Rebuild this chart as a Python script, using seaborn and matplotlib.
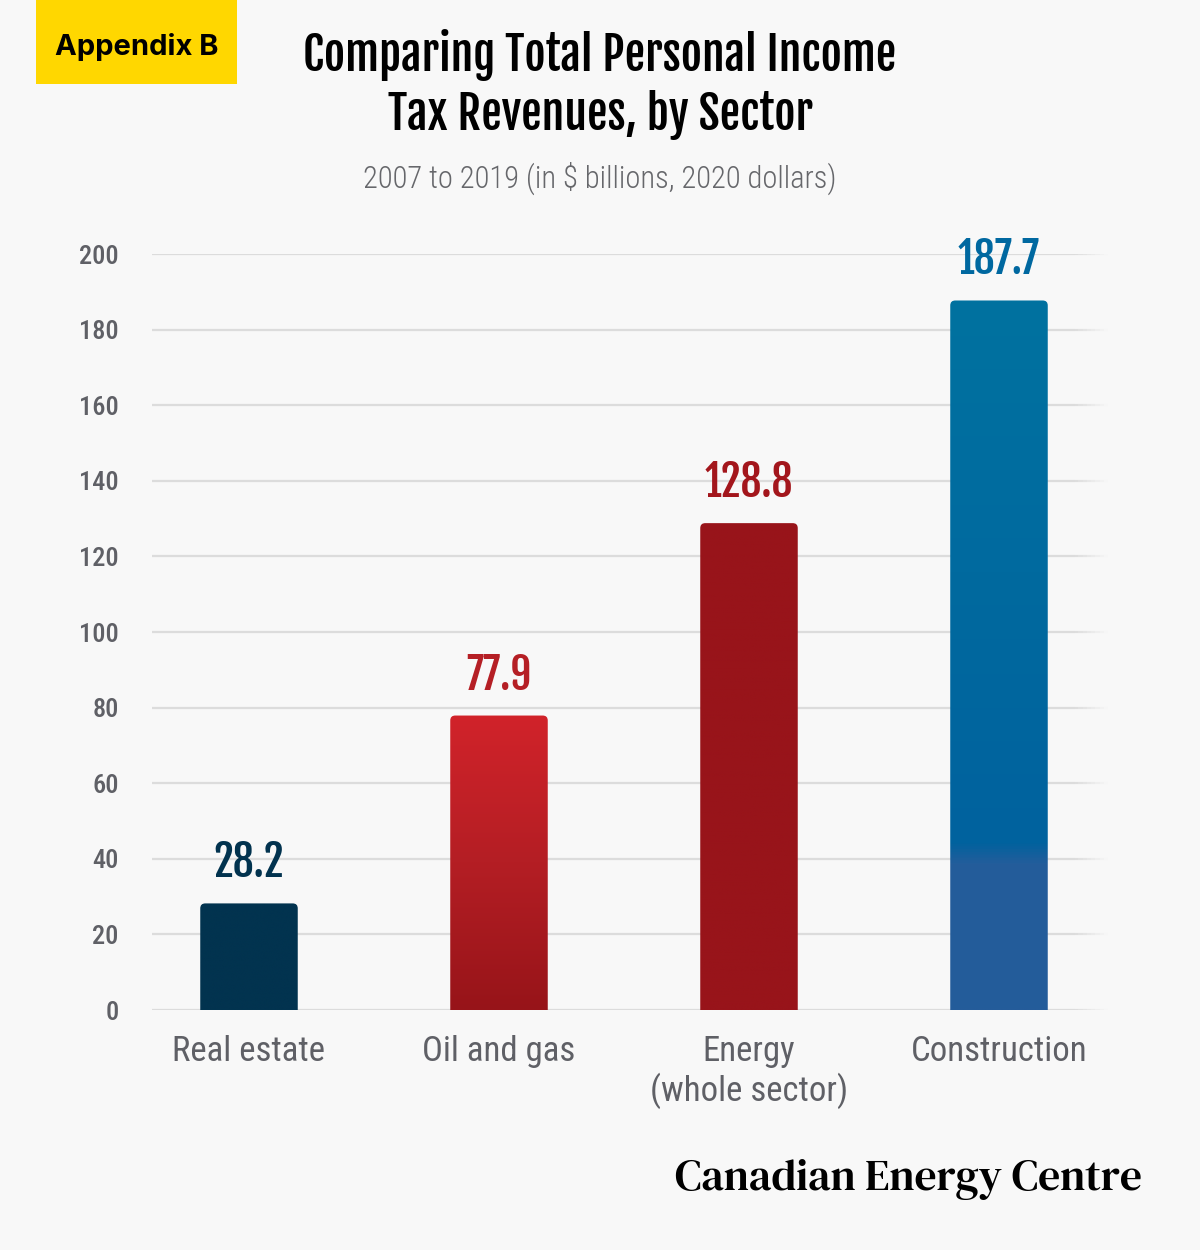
import numpy as np
import pandas as pd
import matplotlib
matplotlib.use("Agg")
import matplotlib.pyplot as plt
import seaborn as sns
from matplotlib.patches import FancyBboxPatch, Rectangle
from matplotlib.colors import LinearSegmentedColormap

sectors = ["Real estate", "Oil and gas", "Energy\n(whole sector)", "Construction"]
revenues = [28.2, 77.9, 128.8, 187.7]
y_ticks = [0, 20, 40, 60, 80, 100, 120, 140, 160, 180, 200]
label_colors = ["#02334F", "#B51F25", "#A3161C", "#0068A0"]
# gradient stops (position bottom -> top, colour) for each bar
bar_grads = [
    [(0, "#02334F"), (1, "#02334F")],
    [(0, "#971419"), (0.5, "#B41E24"), (1, "#D1232A")],
    [(0, "#98141A"), (1, "#98141A")],
    [(0, "#245C9A"), (0.205, "#235D9B"), (0.235, "#00629E"), (1, "#0072A0")],
]

BG = "#F8F8F8"
COND = ["Roboto Condensed", "Liberation Sans", "DejaVu Sans"]
HEAD = ["Fjalla One", "Oswald", "Roboto Condensed", "Liberation Sans", "DejaVu Sans"]

sns.set_theme(style="white")
plt.rcParams["font.family"] = COND

fig = plt.figure(figsize=(12, 12.5), dpi=100, facecolor=BG)
ax = fig.add_axes([152 / 1200, 240 / 1250, 956 / 1200, 756 / 1250])
ax.set_facecolor(BG)

df = pd.DataFrame({"sector": sectors, "value": revenues})
sns.barplot(data=df, x="sector", y="value", ax=ax, width=0.39,
            color="#98141A", zorder=3)

x_left, x_right = -0.388, 3.436
fade_start = 3.30

# grid lines, fading out at the right end
for t in y_ticks:
    ax.plot([x_left, fade_start], [t, t], color="#DCDCDC", lw=1.6, zorder=1)
    steps = np.linspace(fade_start, x_right, 9)
    for k in range(len(steps) - 1):
        ax.plot(steps[k:k + 2], [t, t], color="#DCDCDC", lw=1.6, zorder=1,
                alpha=1 - (k + 0.5) / (len(steps) - 1), solid_capstyle="butt")

# rounded, gradient bars built from the seaborn patches
for i, bar in enumerate(ax.patches[:len(revenues)]):
    x0 = bar.get_x()
    w = bar.get_width()
    h = bar.get_height()
    bar.set_visible(False)
    shape = FancyBboxPatch((x0, -5), w, h + 5,
                           boxstyle="round,pad=0,rounding_size=0.02",
                           mutation_aspect=66, facecolor="none",
                           edgecolor="none", transform=ax.transData)
    ax.add_patch(shape)
    cmap = LinearSegmentedColormap.from_list("g%d" % i, bar_grads[i])
    grad = np.linspace(0, 1, 512).reshape(-1, 1)
    im = ax.imshow(grad, cmap=cmap, origin="lower", aspect="auto",
                   extent=(x0, x0 + w, 0, h), zorder=3)
    im.set_clip_path(shape)
    ax.text(x0 + w / 2, h + 4.5, f"{revenues[i]:.1f}", ha="center",
            va="bottom", fontsize=30, color=label_colors[i], family=HEAD,
            clip_on=False)

ax.set_xlim(x_left, x_right)
ax.set_ylim(0, 200)
ax.set_yticks(y_ticks)
ax.set_yticklabels([str(t) for t in y_ticks], fontsize=19, color="#5F6066",
                   fontweight="medium")
ax.set_xticks(range(len(sectors)))
ax.set_xticklabels(sectors, fontsize=25, color="#5F6066", linespacing=1.15,
                   va="top")
ax.tick_params(axis="x", length=0, pad=18)
ax.tick_params(axis="y", length=0, pad=24)
ax.set_xlabel("")
ax.set_ylabel("")
sns.despine(ax=ax, left=True, bottom=True, top=True, right=True)
ax.grid(False)

# header
fig.patches.append(Rectangle((36 / 1200, 1 - 84 / 1250), 201 / 1200, 84 / 1250,
                             transform=fig.transFigure, facecolor="#FFD700",
                             edgecolor="none"))
fig.text(137 / 1200, 1 - 47 / 1250, "Appendix B", ha="center", va="center",
         fontsize=21, fontweight="bold", color="black",
         family=["Inter", "Roboto", "DejaVu Sans"])
fig.text(600 / 1200, 1 - 55 / 1250, "Comparing Total Personal Income",
         ha="center", va="center", fontsize=33, color="black", family=HEAD)
fig.text(600 / 1200, 1 - 115 / 1250, "Tax Revenues, by Sector",
         ha="center", va="center", fontsize=33, color="black", family=HEAD)
fig.text(600 / 1200, 1 - 178 / 1250, "2007 to 2019 (in $ billions, 2020 dollars)",
         ha="center", va="center", fontsize=22, color="#66676B",
         fontweight="light")

# footer
fig.text(1142 / 1200, 1 - 1179 / 1250, "Canadian Energy Centre",
         ha="right", va="center", fontsize=31.5, color="black",
         family=["DM Serif Text", "PT Serif", "Liberation Serif", "DejaVu Serif"])

fig.savefig("out.png", dpi=100, facecolor=BG)
